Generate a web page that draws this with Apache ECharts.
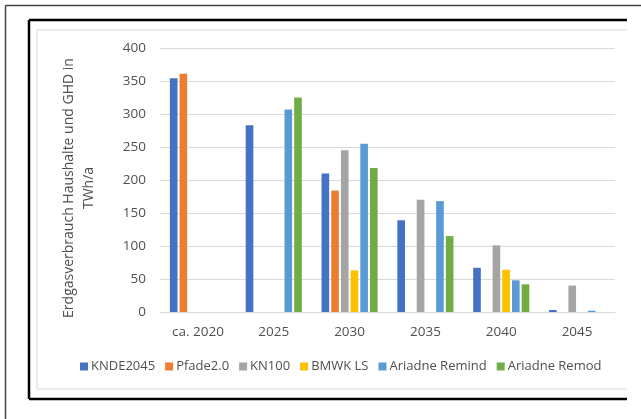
<!DOCTYPE html>
<html>
<head>
<meta charset="utf-8">
<script src="https://cdn.jsdelivr.net/npm/echarts@6/dist/echarts.min.js"></script>
<style>
html,body{margin:0;padding:0;background:#fff;}
#chart{width:641px;height:419px;}
</style>
</head>
<body>
<div id="chart"></div>
<script>
var categories = ['ca. 2020', '2025', '2030', '2035', '2040', '2045'];
var seriesNames = ['KNDE2045', 'Pfade2.0', 'KN100', 'BMWK LS', 'Ariadne Remind', 'Ariadne Remod'];
var knde2045 = [354, 283, 210, 139, 67, 3];
var pfade20 = [361, null, 184, null, null, null];
var kn100 = [null, null, 245, 170, 101, 40];
var bmwkLS = [null, null, 63, null, 64, null];
var ariadneRemind = [null, 307, 255, 168, 48, 2];
var ariadneRemod = [null, 325, 218, 115, 42, null];
var yTicks = [0, 50, 100, 150, 200, 250, 300, 350, 400];
var yTitle = 'Erdgasverbrauch Haushalte und GHD in\nTWh/a';

var colors = ['#4472C4', '#ED7D31', '#A5A5A5', '#FFC000', '#5B9BD5', '#70AD47'];
var values = [knde2045, pfade20, kn100, bmwkLS, ariadneRemind, ariadneRemod];
var FONT = 'Open Sans';
var TXT = '#505050';

var chart = echarts.init(document.getElementById('chart'), null, {renderer: 'canvas'});
var series = seriesNames.map(function (n, i) {
  return {
    name: n,
    type: 'bar',
    data: values[i],
    itemStyle: {color: colors[i]},
    barCategoryGap: '26%',
    barGap: '27%'
  };
});

chart.setOption({
  animation: false,
  backgroundColor: '#ffffff',
  textStyle: {fontFamily: FONT},
  grid: {left: 160, right: 26, top: 48, bottom: 107},
  xAxis: {
    type: 'category',
    data: categories,
    axisLine: {show: true, lineStyle: {color: '#d9d9d9', width: 1}},
    axisTick: {show: false},
    axisLabel: {color: TXT, fontSize: 13.5, margin: 13, fontFamily: FONT}
  },
  yAxis: {
    type: 'value',
    min: yTicks[0],
    max: yTicks[yTicks.length - 1],
    interval: yTicks[1] - yTicks[0],
    axisLine: {show: false},
    axisTick: {show: false},
    splitLine: {lineStyle: {color: '#d9d9d9', width: 1}},
    axisLabel: {color: TXT, fontSize: 13.5, margin: 14, fontFamily: FONT}
  },
  legend: {
    data: seriesNames,
    top: 355,
    left: 75,
    icon: 'rect',
    itemWidth: 8,
    itemHeight: 8,
    itemGap: 10,
    textStyle: {color: TXT, fontSize: 13, fontFamily: FONT, padding: [0, 0, 0, -2]}
  },
  graphic: [
    {type: 'line', shape: {x1: 5.5, y1: 5.5, x2: 641, y2: 5.5}, style: {stroke: '#444', lineWidth: 1.5}, z: 10},
    {type: 'line', shape: {x1: 5.5, y1: 5.5, x2: 5.5, y2: 419}, style: {stroke: '#444', lineWidth: 1.5}, z: 10},
    {type: 'line', shape: {x1: 29, y1: 20, x2: 627, y2: 20}, style: {stroke: '#000', lineWidth: 2.5}, z: 10},
    {type: 'line', shape: {x1: 29, y1: 20, x2: 29, y2: 399}, style: {stroke: '#000', lineWidth: 2.5}, z: 10},
    {type: 'line', shape: {x1: 29, y1: 399, x2: 627, y2: 399}, style: {stroke: '#000', lineWidth: 2.5}, z: 10},
    {type: 'line', shape: {x1: 37, y1: 30, x2: 627, y2: 30}, style: {stroke: '#e4e4e4', lineWidth: 1.5}, z: 10},
    {type: 'line', shape: {x1: 37, y1: 30, x2: 37, y2: 389}, style: {stroke: '#e4e4e4', lineWidth: 1.5}, z: 10},
    {type: 'line', shape: {x1: 37, y1: 389, x2: 627, y2: 389}, style: {stroke: '#e4e4e4', lineWidth: 1.5}, z: 10},
    {
      type: 'text',
      x: 79, y: 188,
      rotation: Math.PI / 2,
      style: {
        text: yTitle,
        fill: TXT,
        fontSize: 14,
        fontFamily: FONT,
        align: 'center',
        verticalAlign: 'middle',
        lineHeight: 20
      },
      z: 10
    }
  ],
  series: series
});
</script>
</body>
</html>
